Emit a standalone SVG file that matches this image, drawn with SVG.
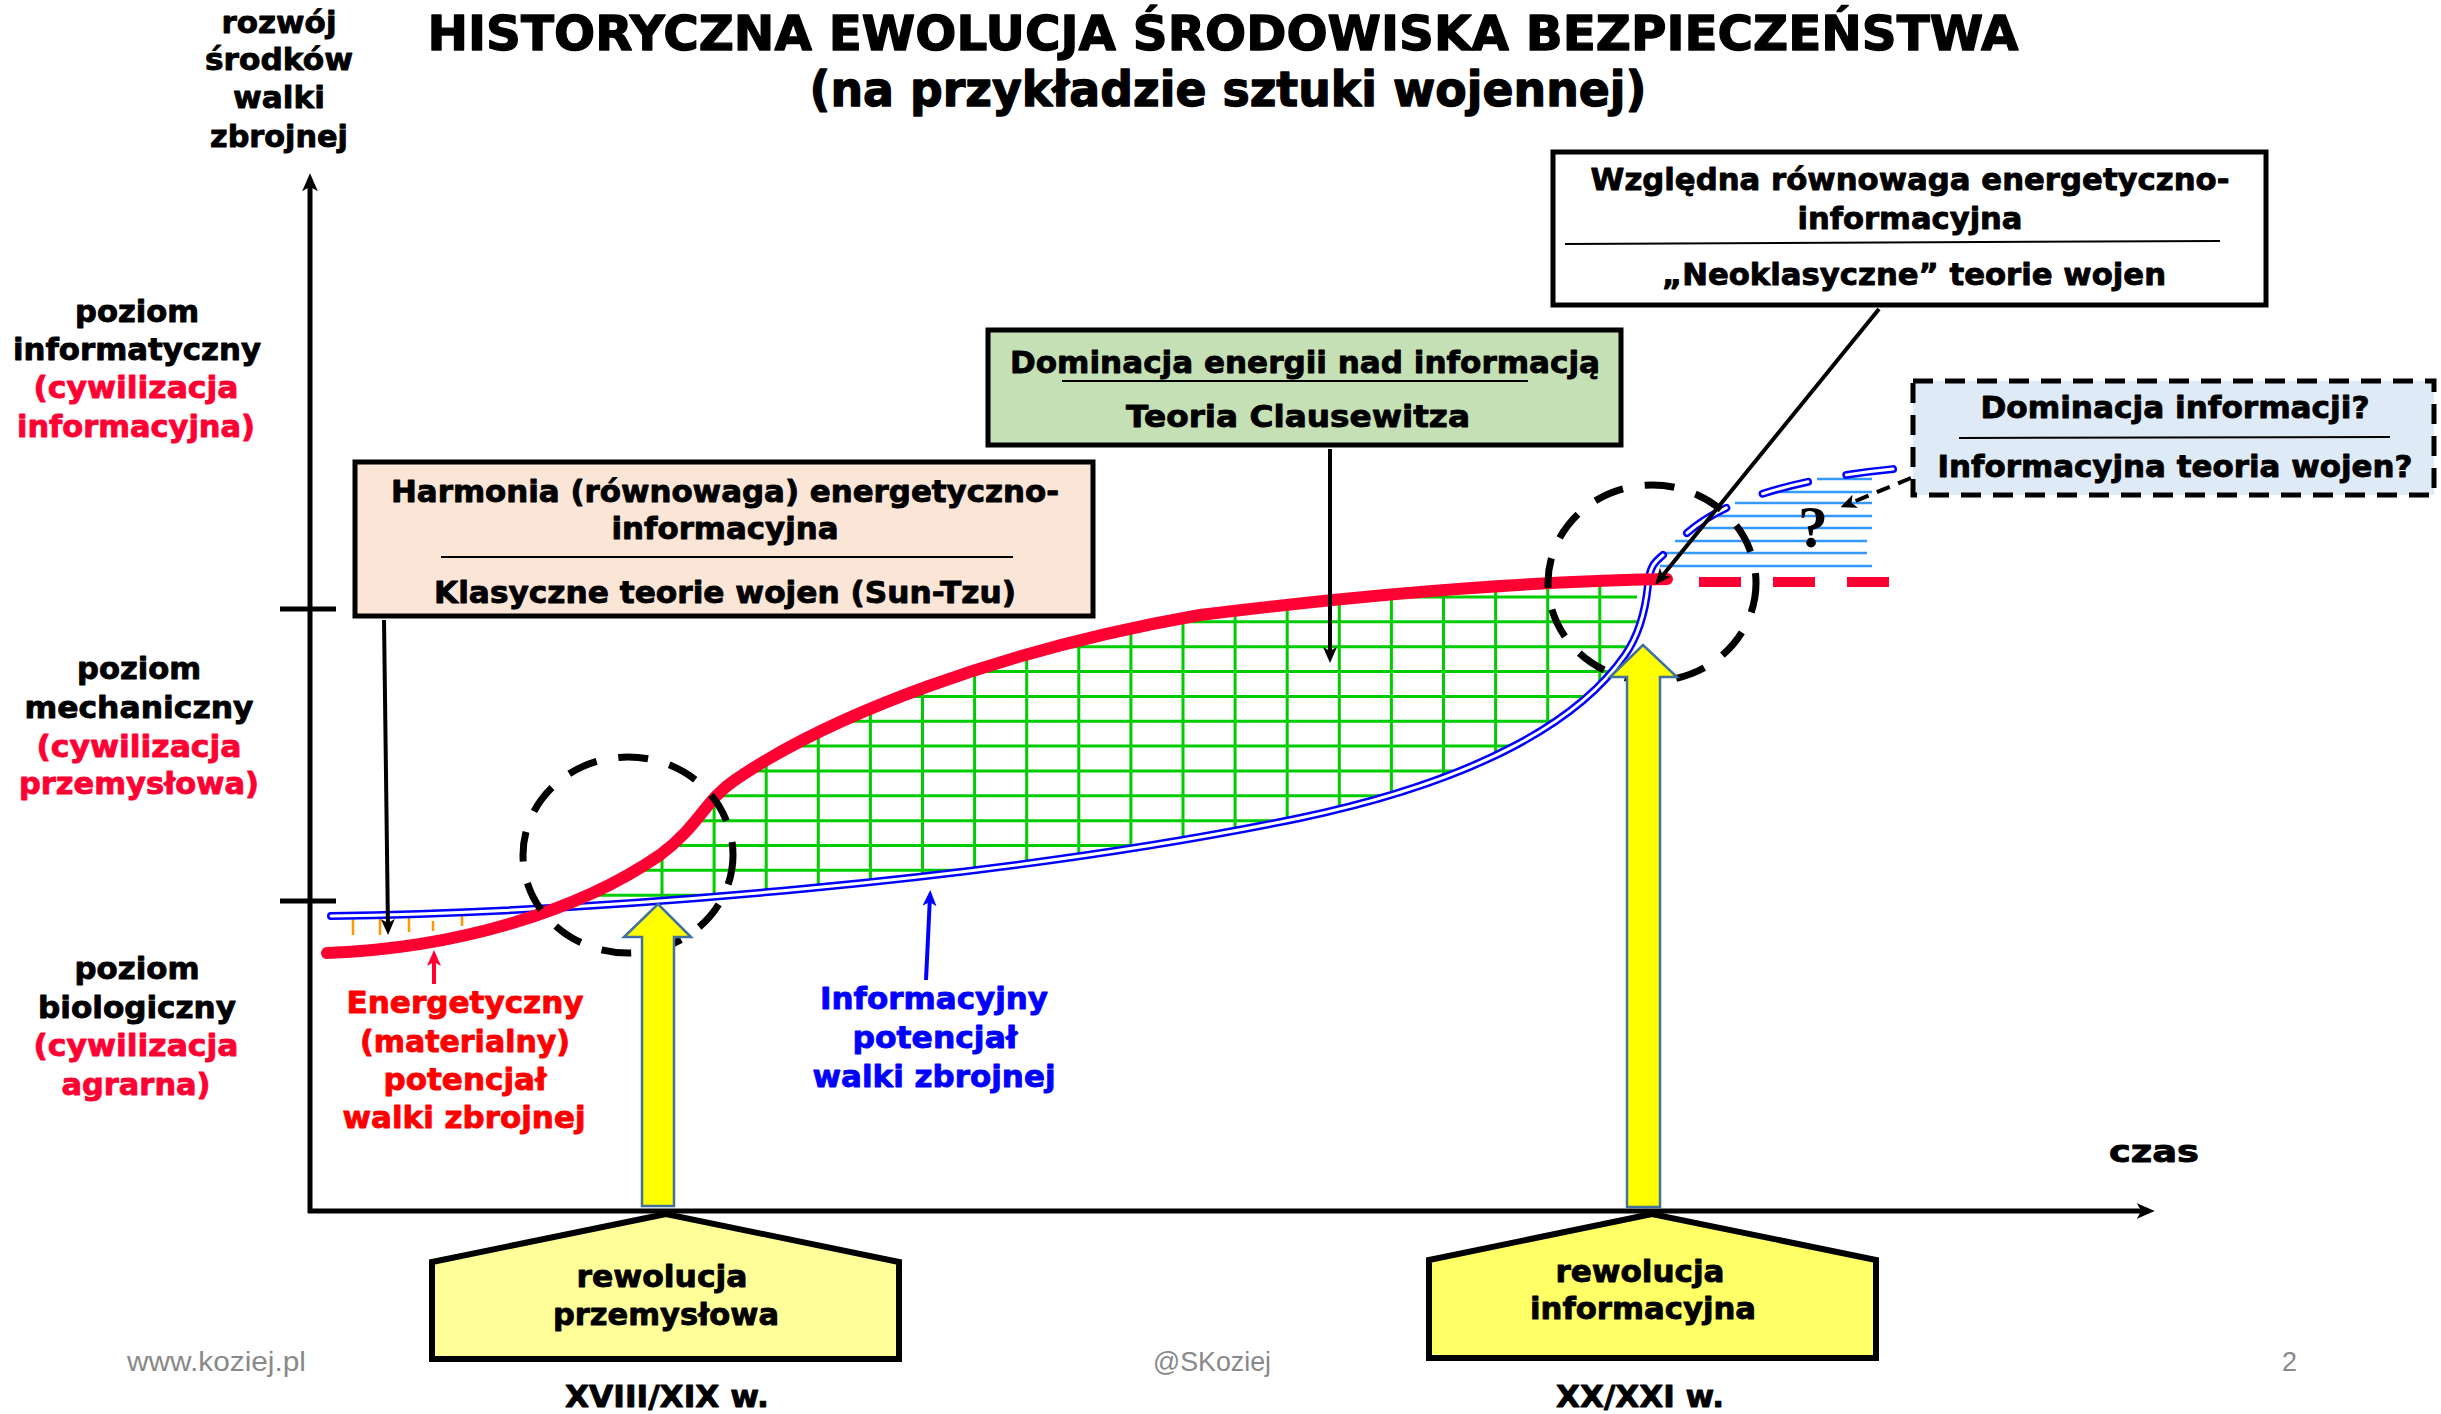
<svg xmlns="http://www.w3.org/2000/svg" width="2441" height="1414" viewBox="0 0 2441 1414">
<style>
.t{font-family:"DejaVu Sans","Liberation Sans",sans-serif;font-weight:bold;font-size:31px;text-anchor:middle;fill:#000;stroke:#000;stroke-width:0.9px;stroke-linejoin:round}
.r{fill:#FF0033;stroke:#FF0033}
.er{fill:#FF0000;stroke:#FF0000}
.bl{fill:#0000FF;stroke:#0000FF}
.ttl{font-size:48px;stroke-width:1.3px}
.foot{font-family:"Liberation Sans","Open Sans",sans-serif;font-size:27px;fill:#898989}
.box{stroke:#000;stroke-width:5}
.div{stroke:#000;stroke-width:2}
.conn{stroke:#000;stroke-width:4;fill:none}
.grid line{stroke:#00CC00;stroke-width:3}
.hatch line{stroke:#3399FF;stroke-width:2.5}
.circ{fill:none;stroke:#000;stroke-width:7;stroke-dasharray:30 22}
.yarrow{stroke:#41719C;stroke-width:2.5}
.pent{stroke:#000;stroke-width:6}
</style>
<defs>
<marker id="ah" markerUnits="userSpaceOnUse" viewBox="0 0 16 14" markerWidth="16" markerHeight="14" refX="10" refY="7" orient="auto"><path d="M0,0 L16,7 L0,14 L4,7 Z" fill="#000"/></marker>
<marker id="ahBig" markerUnits="userSpaceOnUse" viewBox="0 0 16 14" markerWidth="18" markerHeight="16" refX="10" refY="7" orient="auto"><path d="M0,0 L16,7 L0,14 L4,7 Z" fill="#000"/></marker>
<marker id="ahRed" markerUnits="userSpaceOnUse" viewBox="0 0 16 14" markerWidth="16" markerHeight="14" refX="10" refY="7" orient="auto"><path d="M0,0 L16,7 L0,14 L4,7 Z" fill="#FF0033"/></marker>
<marker id="ahBlue" markerUnits="userSpaceOnUse" viewBox="0 0 16 14" markerWidth="16" markerHeight="14" refX="10" refY="7" orient="auto"><path d="M0,0 L16,7 L0,14 L4,7 Z" fill="#0000FF"/></marker>
<clipPath id="belowRed"><path d="M327,953 C460,948 580,910 660,855 C700,825 705,800 735,780 C830,715 1000,650 1200,615 C1400,590 1550,581 1667,579 L1667,1000 L327,1000 Z"/></clipPath>
<clipPath id="aboveBlue"><path d="M331,916 C600,912 1000,880 1300,818 C1480,780 1580,720 1625,655 C1641,632 1646,605 1648,585 S1655,562 1663,555 L1663,400 L300,400 L300,916 Z"/></clipPath>
</defs>
<rect width="2441" height="1414" fill="#fff"/>

<g id="title">
<text class="t ttl" x="1223" y="50" textLength="1591" lengthAdjust="spacingAndGlyphs">HISTORYCZNA EWOLUCJA ŚRODOWISKA BEZPIECZEŃSTWA</text>
<text class="t ttl" x="1228" y="106" textLength="837" lengthAdjust="spacingAndGlyphs">(na przykładzie sztuki wojennej)</text>
</g>

<g id="y-axis-label">
<text class="t" x="279" y="33" textLength="115" lengthAdjust="spacingAndGlyphs">rozwój</text>
<text class="t" x="279" y="70" textLength="148" lengthAdjust="spacingAndGlyphs">środków</text>
<text class="t" x="279" y="108" textLength="92" lengthAdjust="spacingAndGlyphs">walki</text>
<text class="t" x="279" y="147" textLength="138" lengthAdjust="spacingAndGlyphs">zbrojnej</text>
</g>

<g id="level-informatyczny">
<text class="t" x="137" y="322" textLength="124" lengthAdjust="spacingAndGlyphs">poziom</text>
<text class="t" x="137" y="360" textLength="248" lengthAdjust="spacingAndGlyphs">informatyczny</text>
<text class="t r" x="136" y="398" textLength="205" lengthAdjust="spacingAndGlyphs">(cywilizacja</text>
<text class="t r" x="136" y="437" textLength="238" lengthAdjust="spacingAndGlyphs">informacyjna)</text>
</g>
<g id="level-mechaniczny">
<text class="t" x="139" y="679" textLength="124" lengthAdjust="spacingAndGlyphs">poziom</text>
<text class="t" x="139" y="718" textLength="229" lengthAdjust="spacingAndGlyphs">mechaniczny</text>
<text class="t r" x="139" y="757" textLength="205" lengthAdjust="spacingAndGlyphs">(cywilizacja</text>
<text class="t r" x="139" y="794" textLength="240" lengthAdjust="spacingAndGlyphs">przemysłowa)</text>
</g>
<g id="level-biologiczny">
<text class="t" x="137" y="979" textLength="125" lengthAdjust="spacingAndGlyphs">poziom</text>
<text class="t" x="137" y="1018" textLength="198" lengthAdjust="spacingAndGlyphs">biologiczny</text>
<text class="t r" x="136" y="1056" textLength="205" lengthAdjust="spacingAndGlyphs">(cywilizacja</text>
<text class="t r" x="136" y="1095" textLength="149" lengthAdjust="spacingAndGlyphs">agrarna)</text>
</g>

<g id="grid" class="grid" clip-path="url(#belowRed)">
<g clip-path="url(#aboveBlue)">
<line x1="662" y1="560" x2="662" y2="930"/><line x1="714.1" y1="560" x2="714.1" y2="930"/><line x1="766.2" y1="560" x2="766.2" y2="930"/><line x1="818.3" y1="560" x2="818.3" y2="930"/><line x1="870.4" y1="560" x2="870.4" y2="930"/><line x1="922.5" y1="560" x2="922.5" y2="930"/><line x1="974.6" y1="560" x2="974.6" y2="930"/><line x1="1026.7" y1="560" x2="1026.7" y2="930"/><line x1="1078.8" y1="560" x2="1078.8" y2="930"/><line x1="1130.9" y1="560" x2="1130.9" y2="930"/><line x1="1183" y1="560" x2="1183" y2="930"/><line x1="1235.1" y1="560" x2="1235.1" y2="930"/><line x1="1287.2" y1="560" x2="1287.2" y2="930"/><line x1="1339.3" y1="560" x2="1339.3" y2="930"/><line x1="1391.4" y1="560" x2="1391.4" y2="930"/><line x1="1443.5" y1="560" x2="1443.5" y2="930"/><line x1="1495.6" y1="560" x2="1495.6" y2="930"/><line x1="1547.7" y1="560" x2="1547.7" y2="930"/><line x1="1599.8" y1="560" x2="1599.8" y2="930"/>
<line x1="560" y1="597" x2="1637" y2="597"/><line x1="560" y1="621.85" x2="1637" y2="621.85"/><line x1="560" y1="646.7" x2="1637" y2="646.7"/><line x1="560" y1="671.55" x2="1637" y2="671.55"/><line x1="560" y1="696.4" x2="1637" y2="696.4"/><line x1="560" y1="721.25" x2="1637" y2="721.25"/><line x1="560" y1="746.1" x2="1637" y2="746.1"/><line x1="560" y1="770.95" x2="1637" y2="770.95"/><line x1="560" y1="795.8" x2="1637" y2="795.8"/><line x1="560" y1="820.65" x2="1637" y2="820.65"/><line x1="560" y1="845.5" x2="1637" y2="845.5"/><line x1="560" y1="870.35" x2="1637" y2="870.35"/><line x1="560" y1="895.2" x2="1637" y2="895.2"/>
</g>
</g>

<g id="info-future-hatch" class="hatch">
<line x1="1817" y1="479" x2="1872" y2="479"/>
<line x1="1763" y1="492" x2="1872" y2="492"/>
<line x1="1735" y1="503" x2="1872" y2="503"/>
<line x1="1708" y1="516" x2="1872" y2="516"/>
<line x1="1690" y1="528" x2="1872" y2="528"/>
<line x1="1675" y1="541" x2="1867" y2="541"/>
<line x1="1663" y1="553" x2="1867" y2="553"/>
<line x1="1660" y1="566" x2="1872" y2="566"/>
</g>

<g id="early-ticks" stroke="#FF9900" stroke-width="2.5">
<line x1="353" y1="918" x2="353" y2="935"/>
<line x1="380" y1="918" x2="380" y2="935"/>
<line x1="409" y1="918" x2="409" y2="932"/>
<line x1="433" y1="921" x2="433" y2="931"/>
<line x1="462" y1="916" x2="462" y2="926"/>
</g>

<g id="info-curve" fill="none" stroke-linecap="round">
<path d="M331,916 C600,912 1000,880 1300,818 C1480,780 1580,720 1625,655 C1641,632 1646,605 1648,585 S1655,562 1663,555" stroke="#0000FF" stroke-width="8"/>
<path d="M331,916 C600,912 1000,880 1300,818 C1480,780 1580,720 1625,655 C1641,632 1646,605 1648,585 S1655,562 1663,555" stroke="#fff" stroke-width="3"/>
<path d="M1687,533 Q1745,482 1905,468" stroke="#0000FF" stroke-width="8" stroke-dasharray="47 39"/>
<path d="M1687,533 Q1745,482 1905,468" stroke="#fff" stroke-width="3" stroke-dasharray="47 39"/>
</g>

<g id="energy-curve" fill="none">
<path d="M327,953 C460,948 580,910 660,855 C700,825 705,800 735,780 C830,715 1000,650 1200,615 C1400,590 1550,581 1667,579" stroke="#FF0033" stroke-width="12" stroke-linecap="round"/>
<path d="M1699,582 H1889" stroke="#FF0033" stroke-width="10" stroke-dasharray="42 32"/>
</g>

<text id="question" x="1813" y="547" font-family="Liberation Serif, serif" font-weight="bold" font-size="60" text-anchor="middle">?</text>

<g id="circles">
<ellipse class="circ" cx="628" cy="855" rx="105" ry="98"/>
<ellipse class="circ" cx="1652" cy="583" rx="104" ry="98"/>
</g>

<g id="axes" stroke="#000" stroke-width="5" fill="none">
<line x1="310" y1="1213" x2="310" y2="180" marker-end="url(#ahBig)"/>
<line x1="308" y1="1211" x2="2148" y2="1211" marker-end="url(#ahBig)"/>
<line x1="280" y1="609" x2="336" y2="609"/>
<line x1="280" y1="901" x2="336" y2="901"/>
</g>

<g id="yellow-arrows">
<polygon class="yarrow" fill="#FFFF00" points="642,1206 642,937 624,937 658,904 691,937 674,937 674,1206"/>
<polygon class="yarrow" fill="#FFFF00" points="1627,1207 1627,677 1610,677 1643,645 1677,677 1660,677 1660,1207"/>
</g>

<g id="connectors">
<line class="conn" x1="384" y1="620" x2="388" y2="929" marker-end="url(#ah)"/>
<line class="conn" x1="1330" y1="449" x2="1330" y2="657" marker-end="url(#ah)"/>
<line class="conn" x1="1879" y1="309" x2="1659" y2="580" marker-end="url(#ah)"/>
<line class="conn" x1="1911" y1="478" x2="1846" y2="505" stroke-width="5" stroke-dasharray="14 9" marker-end="url(#ah)"/>
<line x1="434" y1="984" x2="434" y2="956" stroke="#FF0033" stroke-width="4" marker-end="url(#ahRed)"/>
<line x1="926" y1="980" x2="930" y2="896" stroke="#0000FF" stroke-width="4" marker-end="url(#ahBlue)"/>
</g>

<g id="box-harmonia">
<rect class="box" x="355" y="462" width="738" height="154" fill="#FBE5D6"/>
<text class="t" x="725" y="502" textLength="668" lengthAdjust="spacingAndGlyphs">Harmonia (równowaga) energetyczno-</text>
<text class="t" x="725" y="539" textLength="227" lengthAdjust="spacingAndGlyphs">informacyjna</text>
<line class="div" x1="441" y1="557" x2="1013" y2="557"/>
<text class="t" x="725" y="603" textLength="582" lengthAdjust="spacingAndGlyphs">Klasyczne teorie wojen (Sun-Tzu)</text>
</g>

<g id="box-clausewitz">
<rect class="box" x="988" y="330" width="633" height="115" fill="#C5E0B4"/>
<text class="t" x="1305" y="373" textLength="590" lengthAdjust="spacingAndGlyphs">Dominacja energii nad informacją</text>
<line class="div" x1="1062" y1="381" x2="1528" y2="381"/>
<text class="t" x="1298" y="427" textLength="344" lengthAdjust="spacingAndGlyphs">Teoria Clausewitza</text>
</g>

<g id="box-neoklasyczne">
<rect class="box" x="1553" y="152" width="713" height="153" fill="#fff"/>
<text class="t" x="1910" y="190" textLength="639" lengthAdjust="spacingAndGlyphs">Względna równowaga energetyczno-</text>
<text class="t" x="1910" y="229" textLength="225" lengthAdjust="spacingAndGlyphs">informacyjna</text>
<line class="div" x1="1565" y1="244" x2="2220" y2="241"/>
<text class="t" x="1914" y="285" textLength="504" lengthAdjust="spacingAndGlyphs">„Neoklasyczne” teorie wojen</text>
</g>

<g id="box-informacja">
<rect x="1913" y="381" width="521" height="114" fill="#DEEBF7" stroke="#000" stroke-width="5" stroke-dasharray="20 12"/>
<text class="t" x="2175" y="418" textLength="389" lengthAdjust="spacingAndGlyphs">Dominacja informacji?</text>
<line class="div" x1="1959" y1="438" x2="2390" y2="437"/>
<text class="t" x="2175" y="477" textLength="475" lengthAdjust="spacingAndGlyphs">Informacyjna teoria wojen?</text>
</g>

<g id="label-energy">
<text class="t er" x="465" y="1013" textLength="237" lengthAdjust="spacingAndGlyphs">Energetyczny</text>
<text class="t er" x="465" y="1052" textLength="210" lengthAdjust="spacingAndGlyphs">(materialny)</text>
<text class="t er" x="465" y="1090" textLength="163" lengthAdjust="spacingAndGlyphs">potencjał</text>
<text class="t er" x="464" y="1128" textLength="243" lengthAdjust="spacingAndGlyphs">walki zbrojnej</text>
</g>

<g id="label-info">
<text class="t bl" x="934" y="1009" textLength="228" lengthAdjust="spacingAndGlyphs">Informacyjny</text>
<text class="t bl" x="935" y="1048" textLength="165" lengthAdjust="spacingAndGlyphs">potencjał</text>
<text class="t bl" x="934" y="1087" textLength="243" lengthAdjust="spacingAndGlyphs">walki zbrojnej</text>
</g>

<g id="rev-industrial">
<polygon class="pent" fill="#FFFF99" points="666,1214 432,1262 432,1359 899,1359 899,1262"/>
<text class="t" x="662" y="1287" textLength="171" lengthAdjust="spacingAndGlyphs">rewolucja</text>
<text class="t" x="666" y="1325" textLength="226" lengthAdjust="spacingAndGlyphs">przemysłowa</text>
</g>

<g id="rev-information">
<polygon class="pent" fill="#FFFF66" points="1652,1214 1429,1260 1429,1358 1876,1358 1876,1260"/>
<text class="t" x="1640" y="1282" textLength="169" lengthAdjust="spacingAndGlyphs">rewolucja</text>
<text class="t" x="1643" y="1319" textLength="226" lengthAdjust="spacingAndGlyphs">informacyjna</text>
</g>

<g id="time-labels">
<text class="t" x="667" y="1407" textLength="204" lengthAdjust="spacingAndGlyphs">XVIII/XIX w.</text>
<text class="t" x="1640" y="1407" textLength="168" lengthAdjust="spacingAndGlyphs">XX/XXI w.</text>
<text class="t" x="2154" y="1162" textLength="90" lengthAdjust="spacingAndGlyphs">czas</text>
</g>

<g id="footer">
<text class="foot" x="127" y="1371" textLength="179" lengthAdjust="spacingAndGlyphs">www.koziej.pl</text>
<text class="foot" x="1153" y="1371" textLength="118" lengthAdjust="spacingAndGlyphs">@SKoziej</text>
<text class="foot" x="2282" y="1371">2</text>
</g>
</svg>
